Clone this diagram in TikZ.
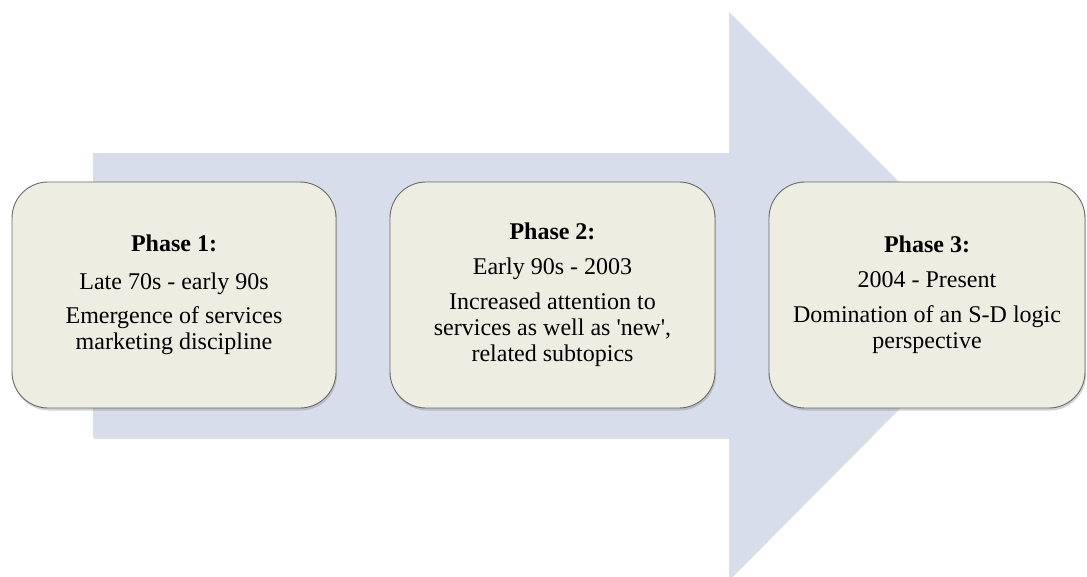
\documentclass[tikz,border=0pt]{standalone}
\usepackage{fontspec}
\setmainfont{Liberation Serif}
\usetikzlibrary{shadows}
\definecolor{arrowfill}{HTML}{D7DDEA}
\definecolor{boxfill}{HTML}{EEEDE2}
\definecolor{boxline}{HTML}{6A6A6A}
\tikzset{
  phasebox/.style={draw=boxline, line width=0.9pt, fill=boxfill,
    rounded corners=36pt, minimum height=226pt, inner sep=0pt,
    align=center, font=\fontsize{24pt}{26pt}\selectfont,
    drop shadow={opacity=0.35, shadow xshift=1pt, shadow yshift=-2.5pt}},
  bigarrow/.style={fill=arrowfill,
    drop shadow={opacity=0.25, shadow xshift=1pt, shadow yshift=-2pt}}
}
\begin{document}
\begin{tikzpicture}[x=1pt, y=-1pt]
  \useasboundingbox (0,0) rectangle (1087,576);
  \begin{scope}
    \clip (0,0) rectangle (1087,576);
    % broad arrow running left to right behind the phases
    \path[bigarrow] (93,153) -- (729,153) -- (729,12) -- (1011,294)
      -- (729,578) -- (729,437) -- (93,437) -- cycle;
  \end{scope}
  \node[phasebox, minimum width=324pt] (p1) at (174,295)
    {\textbf{Phase 1:}\\[12pt]
     Late 70s - early 90s\\[8pt]
     Emergence of services\\
     marketing discipline};
  \node[phasebox, minimum width=325pt] (p2) at (552.5,295)
    {\textbf{Phase 2:}\\[9pt]
     Early 90s - 2003\\[9pt]
     Increased attention to\\
     services as well as \textquotesingle new\textquotesingle,\\
     related subtopics};
  \node[phasebox, minimum width=316pt] (p3) at (927,295)
    {\textbf{Phase 3:}\\[9pt]
     2004 - Present\\[9pt]
     Domination of an S-D logic\\
     perspective};
\end{tikzpicture}
\end{document}
